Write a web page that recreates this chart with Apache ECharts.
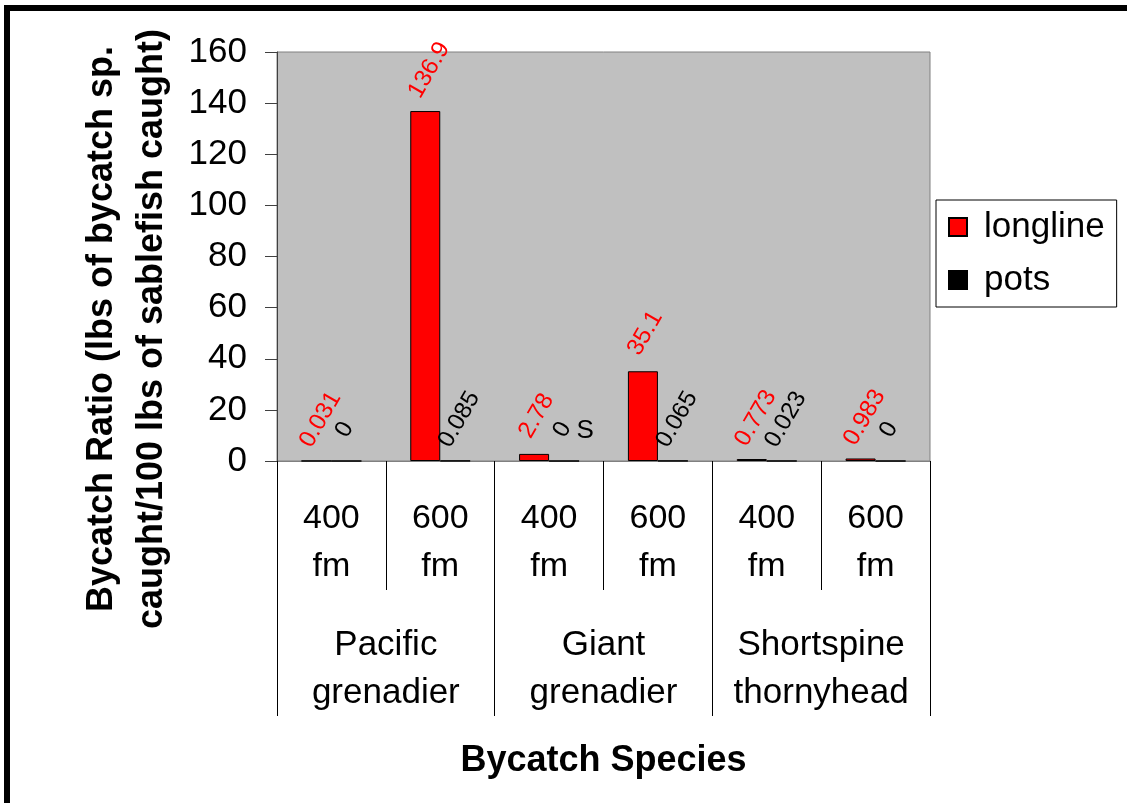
<!DOCTYPE html>
<html>
<head>
<meta charset="utf-8">
<script src="https://cdn.jsdelivr.net/npm/echarts@6/dist/echarts.min.js"></script>
<style>
  html, body { margin: 0; padding: 0; background: #fff; }
  #chart { width: 1127px; height: 803px; }
</style>
</head>
<body>
<div id="chart"></div>
<script>
const depths   = ['400\nfm', '600\nfm', '400\nfm', '600\nfm', '400\nfm', '600\nfm']
const species  = ['Pacific\ngrenadier', 'Giant\ngrenadier', 'Shortspine\nthornyhead']
const longline = [0.031, 136.9, 2.78, 35.1, 0.773, 0.983]
const pots     = [0, 0.085, 0, 0.065, 0.023, 0]
const yTicks   = [0, 20, 40, 60, 80, 100, 120, 140, 160]
const note     = { index: 2, text: 'S' }

const FONT = '"Liberation Sans", Arial, sans-serif'
const LABEL_SIZE = 24

// Excel centres rotated labels over the bar: shift by a quarter of the text width
const ctx = document.createElement('canvas').getContext('2d')
ctx.font = LABEL_SIZE + 'px "Liberation Sans"'
const withOffset = arr => arr.map(v => ({
  value: v,
  label: { offset: [-ctx.measureText(String(v)).width / 4 - 7, 0] }
}))

const chart = echarts.init(document.getElementById('chart'))

const barLabel = color => ({
  show: true,
  position: 'top',
  distance: 34,
  rotate: 60,
  align: 'left',
  verticalAlign: 'middle',
  color: color,
  fontFamily: FONT,
  fontSize: LABEL_SIZE,
  formatter: p => String(p.value)
})

const option = {
  animation: false,
  backgroundColor: '#fff',
  textStyle: { fontFamily: FONT },
  graphic: [
    { type: 'rect', shape: { x: 4, y: 5, width: 1123, height: 6 }, style: { fill: '#000' } },
    { type: 'rect', shape: { x: 4, y: 5, width: 6, height: 798 }, style: { fill: '#000' } },
  ],
  grid: {
    left: 277, right: 197, top: 52, bottom: 342,
    outerBoundsMode: 'none',
    containLabel: false,
    show: true,
    backgroundColor: '#C0C0C0',
    borderColor: '#808080',
    borderWidth: 1,
  },
  legend: {
    orient: 'vertical',
    left: 936,
    top: 200,
    padding: [9, 12, 9, 12],
    itemGap: 17,
    itemWidth: 18,
    itemHeight: 18,
    icon: 'rect',
    borderColor: '#000',
    borderWidth: 1,
    data: ['longline', 'pots'],
    textStyle: { fontSize: 35, lineHeight: 36, color: '#000', fontFamily: FONT, padding: [0, 0, 0, 12] },
  },
  xAxis: [{
    type: 'category',
    position: 'bottom',
    data: depths,
    axisLine: { show: true, lineStyle: { color: '#808080', width: 1 } },
    axisTick: { show: true, interval: 0, length: 129, lineStyle: { color: '#000' } },
    axisLabel: { interval: 0, margin: 34, fontSize: 34, lineHeight: 48, color: '#000', fontFamily: FONT },
  }, {
    type: 'category',
    position: 'bottom',
    offset: 0,
    data: species,
    axisLine: { show: true, lineStyle: { color: '#808080', width: 1 } },
    axisTick: { show: true, interval: 0, length: 255, lineStyle: { color: '#000' } },
    axisLabel: { interval: 0, margin: 160, fontSize: 35, lineHeight: 48, color: '#000', fontFamily: FONT },
    name: 'Bycatch Species',
    nameLocation: 'middle',
    nameGap: 282,
    nameTextStyle: { fontSize: 36, fontWeight: 'bold', color: '#000', fontFamily: FONT },
  }],
  yAxis: {
    type: 'value',
    min: yTicks[0],
    max: yTicks[yTicks.length - 1],
    interval: yTicks[1] - yTicks[0],
    splitLine: { show: false },
    axisLine: { show: true, lineStyle: { color: '#404040' } },
    axisTick: { show: true, length: 12, lineStyle: { color: '#404040' } },
    axisLabel: { margin: 30, fontSize: 35, color: '#000', fontFamily: FONT },
    name: 'Bycatch Ratio (lbs of bycatch sp.\ncaught/100 lbs of sablefish caught)',
    nameLocation: 'middle',
    nameRotate: 90,
    nameGap: 100,
    nameTextStyle: { fontSize: 36, fontWeight: 'bold', lineHeight: 50, color: '#000', fontFamily: FONT, padding: [0, 145, 0, 0] },
  },
  series: [{
    name: 'longline',
    type: 'bar',
    xAxisIndex: 0,
    barWidth: 30,
    barGap: '0%',
    itemStyle: { color: '#FF0000', borderColor: '#000', borderWidth: 1 },
    label: barLabel('#FF0000'),
    data: withOffset(longline),
  }, {
    name: 'pots',
    type: 'bar',
    xAxisIndex: 0,
    barWidth: 30,
    itemStyle: { color: '#000', borderColor: '#000', borderWidth: 1 },
    label: barLabel('#000'),
    data: withOffset(pots),
    markPoint: {
      symbol: 'rect',
      symbolSize: 1,
      itemStyle: { color: 'transparent' },
      label: {
        show: true,
        position: 'inside',
        offset: [21, -30],
        formatter: note.text,
        fontSize: 26,
        color: '#000',
        fontFamily: FONT,
      },
      data: [{ coord: [note.index, 0] }],
    },
  }],
}

chart.setOption(option)
</script>
</body>
</html>
